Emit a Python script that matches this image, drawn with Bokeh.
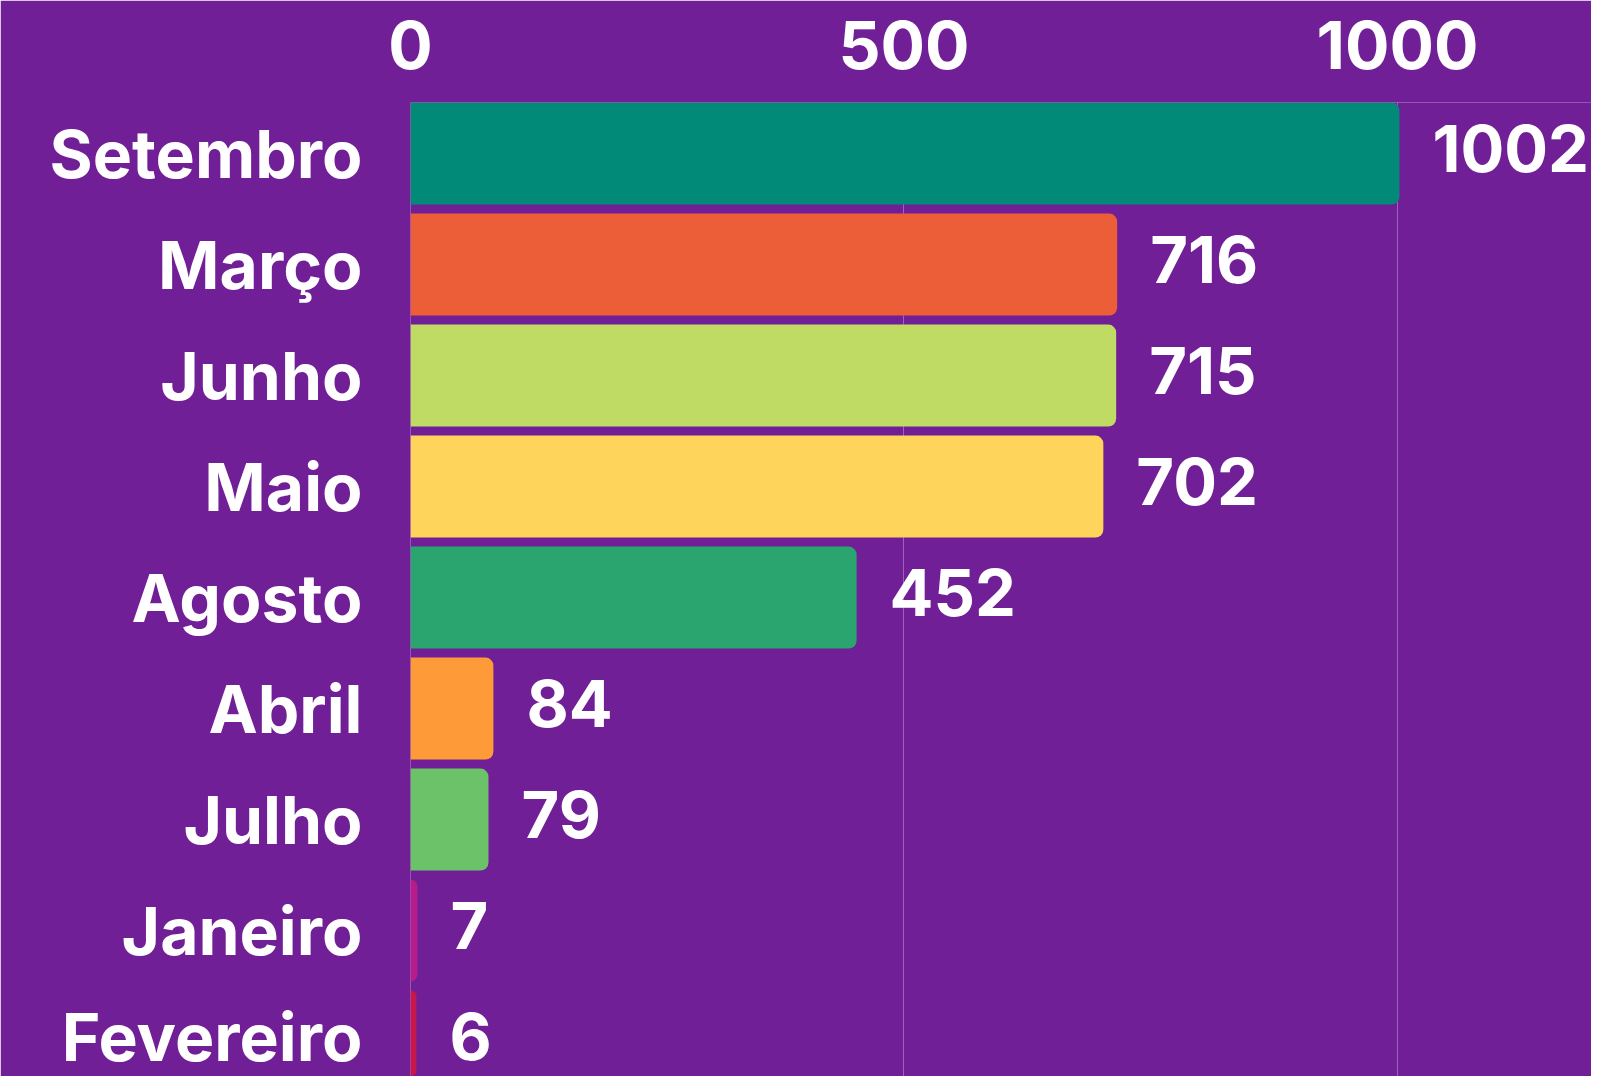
from bokeh.plotting import figure
from bokeh.models import Range1d, FixedTicker, ColumnDataSource, LabelSet
from bokeh.core.properties import value
from bokeh.embed import file_html
from bokeh.resources import INLINE

months = ["Setembro", "Março", "Junho", "Maio", "Agosto", "Abril", "Julho", "Janeiro", "Fevereiro"]
values = [1002, 716, 715, 702, 452, 84, 79, 7, 6]
colors = ["#028A78", "#EC5E38", "#BFDB63", "#FFD45B", "#2BA570", "#FF9A38", "#6CC268", "#B81C8A", "#C8174A"]
x_ticks = [0, 500, 1000]

BG = "#711F96"
FONT = "Inter"
FS = "66px"

pos = list(range(len(months)))
labels = [str(v) for v in values]
src = ColumnDataSource(dict(y=pos, v=values, c=colors, t=labels))

W, H = 1591, 1076
p = figure(width=W, height=H, output_backend="svg", toolbar_location=None,
           x_range=Range1d(0, 1196.6), y_range=Range1d(8.315, -0.46),
           x_axis_location="above", min_border_left=410, min_border_top=102,
           min_border_right=0, min_border_bottom=0,
           background_fill_color=BG, border_fill_color=BG, outline_line_color=None)

p.hbar(y="y", right="v", left=0, height=0.919, fill_color="c", line_color=None,
       border_radius=(0, 8, 8, 0), source=src)

lab = LabelSet(x="v", y="y", text="t", source=src, x_offset=33, y_offset=5,
               text_color="white", text_font=value(FONT), text_font_size="65px",
               text_font_style="bold", text_baseline="middle", text_align="left")
p.add_layout(lab)

xa = p.xaxis[0]
xa.ticker = FixedTicker(ticks=x_ticks)
xa.axis_line_color = None
xa.major_tick_line_color = None
xa.major_tick_out = 0
xa.minor_tick_line_color = None
xa.major_label_text_color = "white"
xa.major_label_text_font = FONT
xa.major_label_text_font_size = FS
xa.major_label_text_font_style = "bold"
xa.major_label_standoff = 34

ya = p.yaxis[0]
ya.ticker = FixedTicker(ticks=pos)
ya.major_label_overrides = {i: m for i, m in enumerate(months)}
ya.axis_line_color = None
ya.major_tick_line_color = None
ya.major_tick_out = 0
ya.minor_tick_line_color = None
ya.major_label_text_color = "white"
ya.major_label_text_font = FONT
ya.major_label_text_font_size = FS
ya.major_label_text_font_style = "bold"
ya.major_label_standoff = 48

p.ygrid.grid_line_color = None
p.xgrid.ticker = FixedTicker(ticks=x_ticks)
p.xgrid.grid_line_color = "white"
p.xgrid.grid_line_alpha = 0.3
p.xgrid.grid_line_width = 1

open("out.html", "w").write(file_html(p, INLINE))
